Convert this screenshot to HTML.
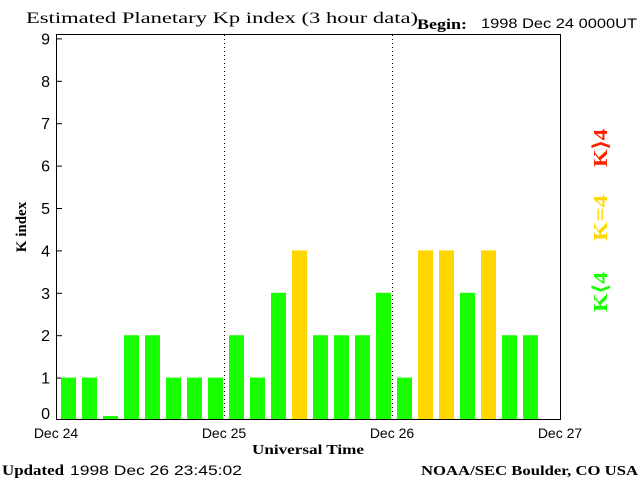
<!DOCTYPE html>
<html><head><meta charset="utf-8"><style>
body{margin:0;background:#fff;}
svg text{font-family:"Liberation Sans",sans-serif;}
.s{font-family:"Liberation Serif",serif;font-weight:bold;}
</style></head><body>
<svg id="c" width="640" height="480" xmlns="http://www.w3.org/2000/svg">
<text x="26" y="23" font-size="16" textLength="392" lengthAdjust="spacingAndGlyphs" style="font-family:'Liberation Serif',serif">Estimated Planetary Kp index (3 hour data)</text>
<text class="s" x="417" y="29" font-size="15" textLength="50" lengthAdjust="spacingAndGlyphs">Begin:</text>
<text x="481" y="28" font-size="14" textLength="156" lengthAdjust="spacingAndGlyphs">1998 Dec 24 0000UT</text>
<rect x="56.5" y="34.5" width="504" height="385" fill="none" stroke="#000"/>
<g id="yt"></g><g id="xt"></g><g id="bars"></g>
<text class="s" x="26" y="227" font-size="15" transform="rotate(-90 26 227)" text-anchor="middle">K index</text>
<text class="s" x="308" y="454" font-size="14" text-anchor="middle" textLength="112" lengthAdjust="spacingAndGlyphs">Universal Time</text>
<text class="s" x="2" y="475" font-size="15" textLength="62" lengthAdjust="spacingAndGlyphs">Updated</text>
<text x="70" y="475" font-size="14" textLength="172" lengthAdjust="spacingAndGlyphs">1998 Dec 26 23:45:02</text>
<text class="s" x="421" y="475" font-size="14" textLength="217" lengthAdjust="spacingAndGlyphs">NOAA/SEC Boulder, CO USA</text>
<text class="s" x="607" y="148" font-size="20" fill="#ff2000" transform="rotate(-90 607 148)" text-anchor="middle" textLength="38" lengthAdjust="spacingAndGlyphs">K⟩4</text>
<text class="s" x="607" y="218" font-size="20" fill="#ffd700" transform="rotate(-90 607 218)" text-anchor="middle" textLength="46" lengthAdjust="spacingAndGlyphs">K=4</text>
<text class="s" x="607" y="292" font-size="20" fill="#1aff00" transform="rotate(-90 607 292)" text-anchor="middle" textLength="40" lengthAdjust="spacingAndGlyphs">K⟨4</text>
</svg>
<script>
const kpValues=[1,1,0,2,2,1,1,1, 2,1,3,4,2,2,2,3, 1,4,4,3,4,2,2];
const dayLabels=["Dec 24","Dec 25","Dec 26","Dec 27"];
const yTicks=[0,1,2,3,4,5,6,7,8,9];
const NS="http://www.w3.org/2000/svg";
const x0=56,y0=420,dayW=168,unit=42.4,slot=dayW/8;
const xs=i=>x0+slot*i;
const ys=v=>y0-v*unit;
function mk(t,a,p){const e=document.createElementNS(NS,t);for(const k in a)e.setAttribute(k,a[k]);document.getElementById(p).appendChild(e);return e;}
yTicks.forEach(v=>{
 const t=mk('text',{x:50,y:(v==0?y0-1:ys(v)+6),'font-size':16,'text-anchor':'end'},'yt');t.textContent=v;
 
 
 if(v>0){const l=mk('line',{x1:56,x2:62,y1:ys(v)+0.5,y2:ys(v)+0.5,stroke:'#000'},'yt');
 
 }
});
dayLabels.forEach((d,i)=>{
 const x=x0+dayW*i;
 const t=mk('text',{x:x,y:438,'font-size':14,'text-anchor':'middle'},'xt');t.textContent=d;
 
 
 if(i>0&&i<dayLabels.length-1){const l=mk('line',{x1:x+0.5,x2:x+0.5,y1:35,y2:419,stroke:'#000','stroke-dasharray':'1,3'},'xt');
 
 }
});
kpValues.forEach((v,i)=>{
 const c=v>4?'#ff2000':v==4?'#ffd700':'#1aff00';
 const top=v==0?y0-4:ys(v);
 const r=mk('rect',{x:xs(i)+5,y:top,width:15,height:y0-1-top,fill:c},'bars');
 
 
});
</script>
</body></html>
